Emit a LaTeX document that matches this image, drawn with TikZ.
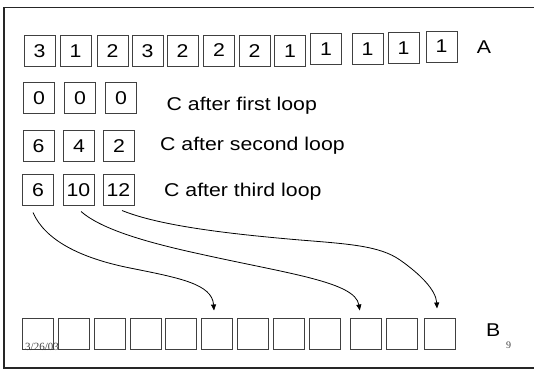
\documentclass[tikz,border=0pt]{standalone}
\usepackage{fontspec}
\usetikzlibrary{arrows.meta}
\newfontfamily\slidefont[FakeStretch=1.15]{Liberation Sans}
\newfontfamily\footfont{Liberation Serif}
\tikzset{
  cell/.style={draw=black!75, line width=0.9pt, minimum width=31pt, minimum height=31pt,
               inner sep=0pt, outer sep=0pt, font=\slidefont\fontsize{18.5}{18.5}\selectfont},
  caption/.style={anchor=base west, inner sep=0pt, font=\slidefont\fontsize{18.5}{18.5}\selectfont},
  small/.style={anchor=base west, inner sep=0pt, font=\footfont\fontsize{11}{11}\selectfont, text=black!75},
  move/.style={draw=black, line width=0.8pt, -{Triangle[length=6pt,width=5pt]}},
  frame/.style={draw=black!85, line width=1.2pt}
}
\begin{document}
\begin{tikzpicture}[x=1pt, y=-1pt]
\useasboundingbox (0,0) rectangle (534,369);
% slide frame
\draw[frame] (540,7.5) -| (4,368) -- (540,368);

% input array A
\node[cell] (a1)  at (39.5,51)  {3};
\node[cell] (a2)  at (75.5,51)  {1};
\node[cell] (a3)  at (112.5,51) {2};
\node[cell] (a4)  at (147.5,51) {3};
\node[cell] (a5)  at (182.5,51) {\raisebox{-2pt}{2}};
\node[cell] (a6)  at (219,51)   {\raisebox{1pt}{2}};
\node[cell] (a7)  at (254.5,51) {\raisebox{-1.5pt}{2}};
\node[cell] (a8)  at (290,51)   {\raisebox{-1.5pt}{1}};
\node[cell] (a9)  at (326,49)   {1};
\node[cell] (a10) at (367.5,48.8) {1};
\node[cell] (a11) at (403.5,47.8) {1};
\node[cell] (a12) at (441.5,46.5) {1};
\node[caption] (la) at (476.7,53.3) {A};

% counts C after each loop
\node[cell] (f1) at (39,98)  {0};
\node[cell] (f2) at (80,98)  {0};
\node[cell] (f3) at (121,98) {0};
\node[caption] (lf) at (166.5,110) {C after first loop};

\node[cell] (s1) at (38.5,146) {6};
\node[cell] (s2) at (79,146)   {4};
\node[cell] (s3) at (119,146)  {2};
\node[caption] (ls) at (160,150) {C after second loop};

\node[cell] (t1) at (38,190)    {6};
\node[cell] (t2) at (78.5,190)  {10};
\node[cell] (t3) at (118.5,190) {12};
\node[caption] (lt) at (164,196) {C after third loop};

% output array B
\node[cell] (b1)  at (38,334)    {};
\node[cell] (b2)  at (74,334)    {};
\node[cell] (b3)  at (110,334)   {};
\node[cell] (b4)  at (145.6,334) {};
\node[cell] (b5)  at (181.4,334) {};
\node[cell] (b6)  at (217,334)   {};
\node[cell] (b7)  at (253,334)   {};
\node[cell] (b8)  at (288.7,334) {};
\node[cell] (b9)  at (324.6,334) {};
\node[cell] (b10) at (365.8,334) {};
\node[cell] (b11) at (401.7,334) {};
\node[cell] (b12) at (440.4,334) {};
\node[caption] (lb) at (486,336) {B};

% footer
\node[small] (date) at (25,350) {3/26/03};
\node[small, font=\footfont\fontsize{10}{10}\selectfont] (page) at (506,348) {9};

% placement arrows
\coordinate (p1) at ([shift={(-5,7)}]t1.south);
\coordinate (p2) at ([shift={(2.5,6)}]t2.south);
\coordinate (p3) at ([shift={(3.5,5)}]t3.south);
\coordinate (q1) at ([shift={(-3,-8)}]b6.north);
\coordinate (q2) at ([shift={(-6,-8)}]b10.north);
\coordinate (q3) at ([shift={(-3.4,-10)}]b12.north);

\draw[move] (p1) .. controls (45,240) and (80,258) .. (130,268)
                 .. controls (180,278) and (212,284) .. (q1);
\draw[move] (p2) .. controls (100,228) and (140,241) .. (200,254)
                 .. controls (290,274) and (355,282) .. (q2);
\draw[move] (p3) .. controls (160,226) and (230,234) .. (300,240)
                 .. controls (350,244) and (380,246) .. (400,260)
                 .. controls (420,274) and (436,290) .. (q3);
\end{tikzpicture}
\end{document}
